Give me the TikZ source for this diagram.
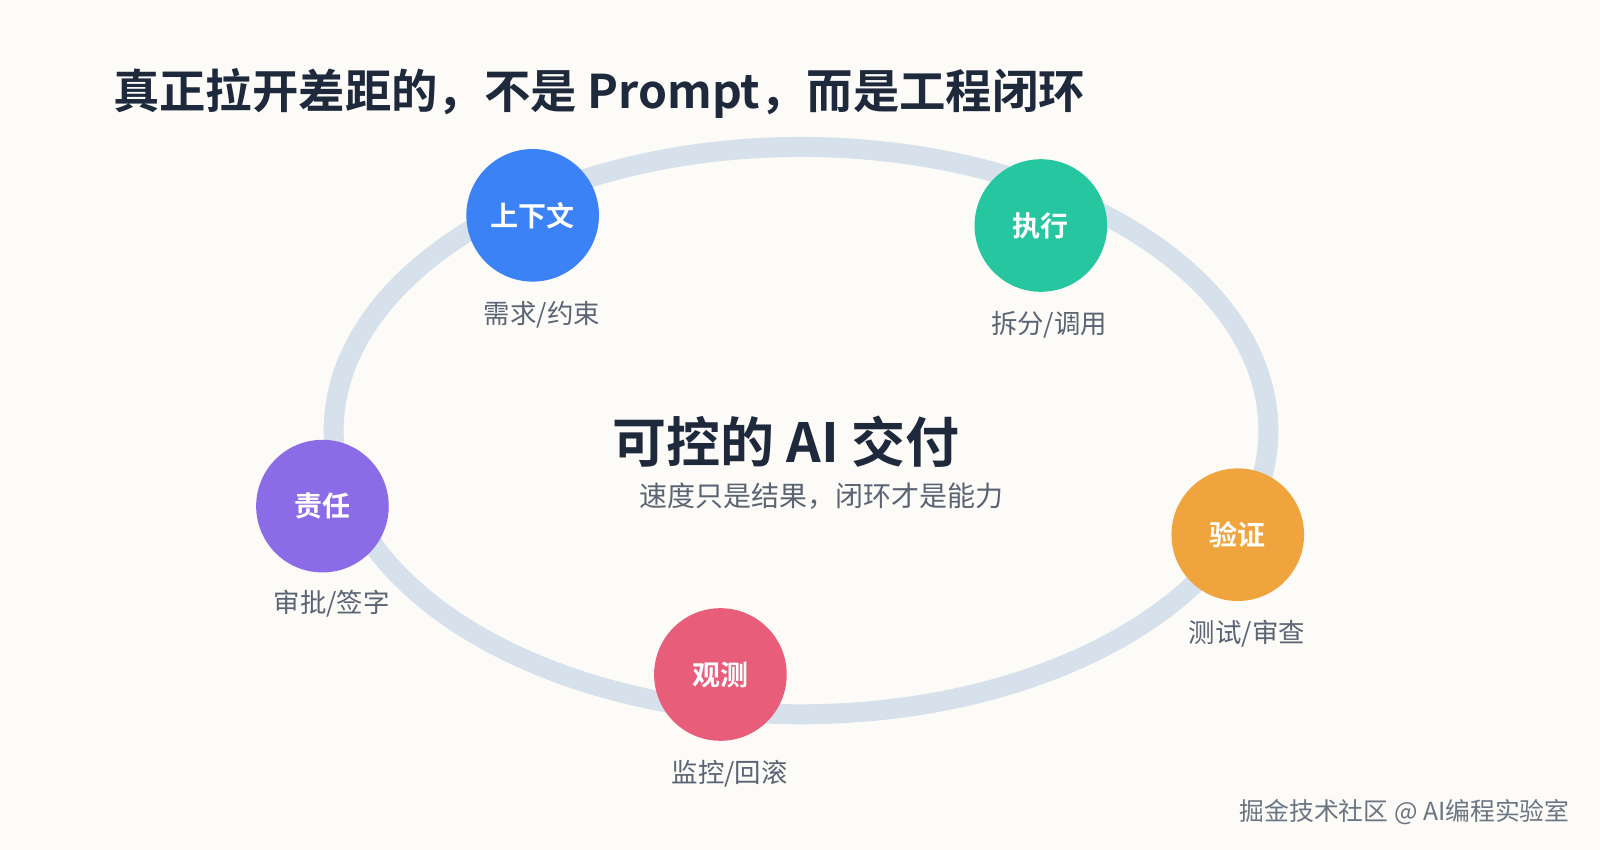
\documentclass[tikz,border=0pt]{standalone}
\usepackage{fontspec}
\setmainfont{Noto Sans CJK SC}
\newfontfamily\cjkb{Noto Sans CJK SC Bold}
\definecolor{bg}{HTML}{FCFBF8}
\definecolor{ring}{HTML}{D7E1EB}
\definecolor{dark}{HTML}{1E293B}
\definecolor{gray}{HTML}{5A6473}
\definecolor{cblue}{HTML}{3B82F6}
\definecolor{cgreen}{HTML}{26C6A0}
\definecolor{corange}{HTML}{EFA43D}
\definecolor{cred}{HTML}{E85D79}
\definecolor{cpurple}{HTML}{8B6CE6}
\begin{document}
\begin{tikzpicture}[x=0.5102pt,y=-0.5102pt,
  stage/.style={circle,minimum size=66.3pt,inner sep=0pt,text=white,font=\cjkb\fontsize{14}{16}\selectfont},
  lbl/.style={text=gray,font=\fontsize{13.2}{15}\selectfont}]
\useasboundingbox (0,0) rectangle (1568,833);
\fill[bg] (0,0) rectangle (1568,833);
\node[anchor=west,text=dark,font=\cjkb\fontsize{23.2}{26}\selectfont] (title) at (104,92) {真正拉开差距的，不是 Prompt，而是工程闭环};
\draw[ring,line width=10pt] (785,422) ellipse [x radius=458,y radius=278];
\node[text=dark,font=\cjkb\fontsize{27}{30}\selectfont] (ct) at (770,433) {可控的 AI 交付};
\node[lbl,font=\fontsize{14}{16}\selectfont] (cs) at (805,486) {速度只是结果，闭环才是能力};
\node[stage,fill=cblue] (s1) at (522,211) {上下文};
\node[stage,fill=cgreen] (s2) at (1020,221) {执行};
\node[stage,fill=corange] (s3) at (1213,524) {验证};
\node[stage,fill=cred] (s4) at (706,661) {观测};
\node[stage,fill=cpurple] (s5) at (316,496) {责任};
\node[lbl] (l1) at (531,308) {需求/约束};
\node[lbl] (l2) at (1028,318) {拆分/调用};
\node[lbl] (l3) at (1222,621) {测试/审查};
\node[lbl] (l4) at (715,758) {监控/回滚};
\node[lbl] (l5) at (325,592) {审批/签字};
\node[anchor=east,text=gray!90,font=\fontsize{12.4}{14}\selectfont] (wm) at (1545,796) {掘金技术社区 @ AI编程实验室};
\end{tikzpicture}
\end{document}
